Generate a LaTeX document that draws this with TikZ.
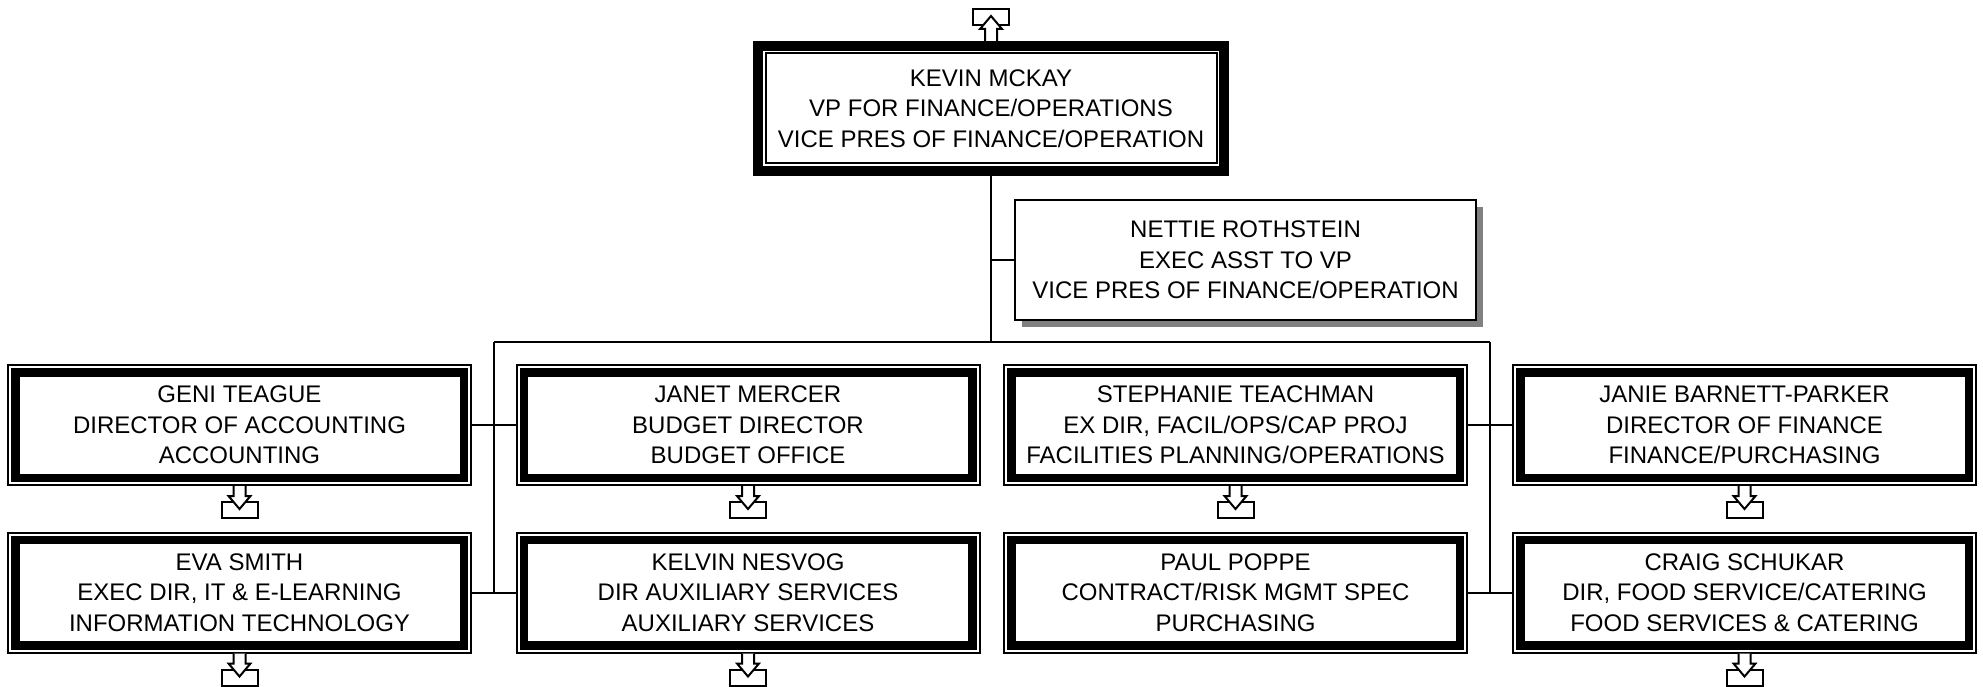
\documentclass[tikz,border=0pt]{standalone}
\usepackage{fontspec}
\setmainfont{Liberation Sans}
\usetikzlibrary{shadows}
\begin{document}
\begin{tikzpicture}[x=1pt,y=-1pt,
  boxfont/.style={font=\fontsize{24}{30.5}\selectfont},
  lowbox/.style={boxfont, minimum width=465pt, minimum height=122pt, inner sep=0pt, outer sep=0pt, align=center},
  topbox/.style={boxfont, minimum width=476pt, minimum height=135pt, inner sep=0pt, outer sep=0pt, align=center},
  asstbox/.style={boxfont, draw, line width=2pt, fill=white, minimum width=461pt, minimum height=120pt, inner sep=0pt, outer sep=0pt, align=center,
     drop shadow={shadow xshift=7pt, shadow yshift=-7pt, fill=black!50, opacity=1}},
  conn/.style={line width=2pt},
  icon/.style={line width=2pt, fill=white, line join=miter},
  downicon/.pic={
    \draw[icon] (-18,16) rectangle (18,32);
    \filldraw[icon] (-6,0) -- (-6,10) -- (-11,10) -- (0,23) -- (11,10) -- (6,10) -- (6,0);
  },
  upicon/.pic={
    \draw[icon] (-18,-16) rectangle (18,-32);
    \filldraw[icon] (-6,0) -- (-6,-12) -- (-11,-12) -- (0,-25) -- (11,-12) -- (6,-12) -- (6,0);
  }
]
\useasboundingbox (0,0) rectangle (1983,687);

% nodes
\node[topbox] (kevin) at (991,108.5) {KEVIN MCKAY\\VP FOR FINANCE/OPERATIONS\\VICE PRES OF FINANCE/OPERATION};
\node[asstbox] (nettie) at (1245.5,260) {NETTIE ROTHSTEIN\\EXEC ASST TO VP\\VICE PRES OF FINANCE/OPERATION};

\node[lowbox] (geni) at (239.5,425) {GENI TEAGUE\\DIRECTOR OF ACCOUNTING\\ACCOUNTING};
\node[lowbox] (janet) at (748,425) {JANET MERCER\\BUDGET DIRECTOR\\BUDGET OFFICE};
\node[lowbox] (steph) at (1235.5,425) {STEPHANIE TEACHMAN\\EX DIR, FACIL/OPS/CAP PROJ\\FACILITIES PLANNING/OPERATIONS};
\node[lowbox] (janie) at (1744.5,425) {JANIE BARNETT-PARKER\\DIRECTOR OF FINANCE\\FINANCE/PURCHASING};

\node[lowbox] (eva) at (239.5,592.5) {EVA SMITH\\EXEC DIR, IT \& E-LEARNING\\INFORMATION TECHNOLOGY};
\node[lowbox] (kelvin) at (748,592.5) {KELVIN NESVOG\\DIR AUXILIARY SERVICES\\AUXILIARY SERVICES};
\node[lowbox] (paul) at (1235.5,592.5) {PAUL POPPE\\CONTRACT/RISK MGMT SPEC\\PURCHASING};
\node[lowbox] (craig) at (1744.5,592.5) {CRAIG SCHUKAR\\DIR, FOOD SERVICE/CATERING\\FOOD SERVICES \& CATERING};

% borders
\draw[line width=10pt] ([shift={(5,5)}]kevin.north west) rectangle ([shift={(-5,-5)}]kevin.south east);
\draw[line width=2pt] ([shift={(12.5,12.5)}]kevin.north west) rectangle ([shift={(-12.5,-12.5)}]kevin.south east);
\foreach \n in {geni,janet,steph,janie,eva,kelvin,paul,craig}{
  \draw[line width=2pt] ([shift={(1,1)}]\n.north west) rectangle ([shift={(-1,-1)}]\n.south east);
  \draw[line width=8.5pt] ([shift={(8.25,8.25)}]\n.north west) rectangle ([shift={(-8.25,-8.25)}]\n.south east);
}

% connectors
\coordinate (jl) at (494,342);
\coordinate (jr) at (1490,342);
\coordinate (jc) at (kevin.south |- jl);
\draw[conn] (kevin.south) -- (jc);
\draw[conn] (kevin.south |- nettie.west) -- (nettie.west);
\draw[conn] (jl) -- (jr);
\draw[conn] (jl) -- (jl |- eva.east);
\draw[conn] (jr) -- (jr |- paul.east);
\draw[conn] (geni.east) -- (janet.west);
\draw[conn] (eva.east) -- (kelvin.west);
\draw[conn] (steph.east) -- (janie.west);
\draw[conn] (paul.east) -- (craig.west);

% icons
\pic at (kevin.north) {upicon};
\foreach \n in {geni,janet,steph,janie,eva,kelvin,craig}{
  \pic at (\n.south) {downicon};
}
\end{tikzpicture}
\end{document}
